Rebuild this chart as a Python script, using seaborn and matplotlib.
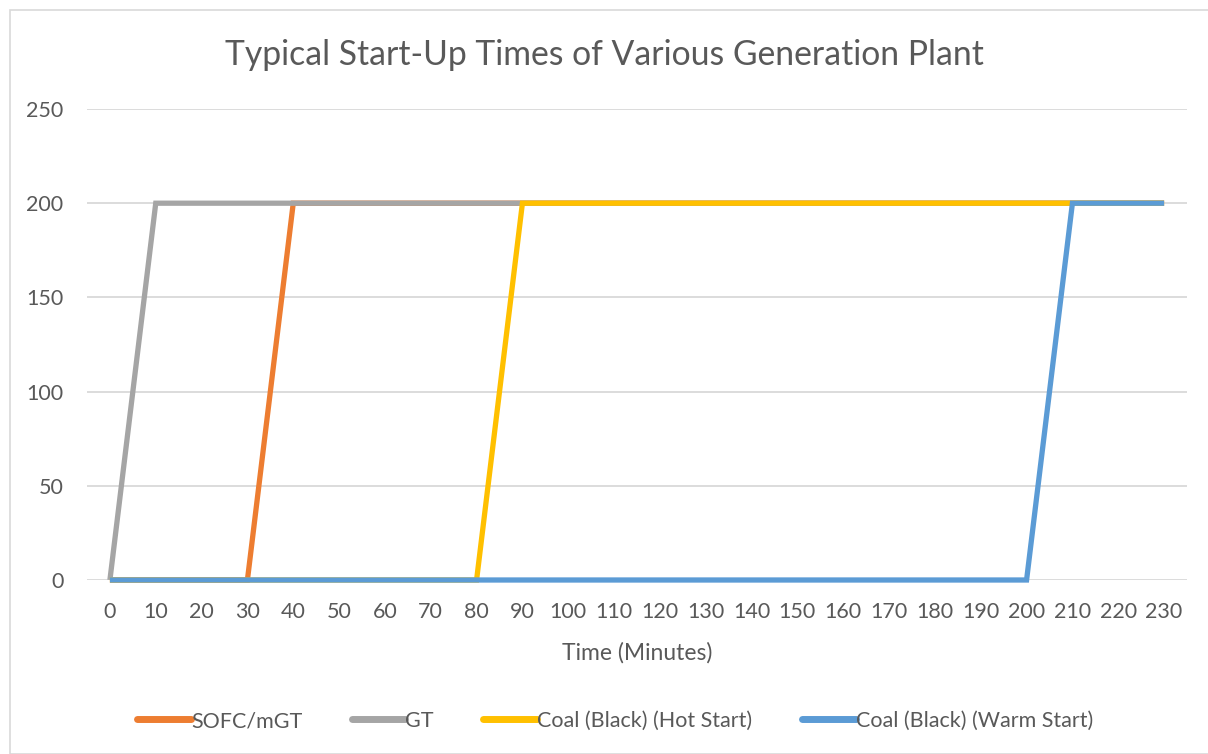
import matplotlib
matplotlib.use('Agg')
import matplotlib.pyplot as plt
import seaborn as sns
import pandas as pd
from matplotlib.patches import Rectangle

# ── data ─────────────────────────────────────────────
minutes = list(range(0, 240, 10))
sofc = [0, 0, 0, 0] + [200] * 20
gt = [0] + [200] * 23
coal_hot = [0] * 9 + [200] * 15
coal_warm = [0] * 21 + [200] * 3

series_names = ['SOFC/mGT', 'GT', 'Coal (Black) (Hot Start)',
                'Coal (Black) (Warm Start)']
colors = ['#ED7D31', '#A5A5A5', '#FFC000', '#5B9BD5']

df = pd.concat([
    pd.DataFrame({'Time': minutes, 'Output': vals, 'Plant': name})
    for name, vals in zip(series_names, [sofc, gt, coal_hot, coal_warm])
])

sns.set_theme(style='white')
plt.rcParams['font.family'] = ['Lato', 'DejaVu Sans']
text_col = '#595959'

fig = plt.figure(figsize=(12.08, 7.54), dpi=100)
ax = fig.add_axes([87 / 1208, 1 - 580 / 754, 1100 / 1208, 471 / 754])

# chart border
fig.patches.append(Rectangle((10 / 1208, 0), 1.2, 1 - 10 / 754,
                             transform=fig.transFigure, fill=False,
                             edgecolor='#D9D9D9', linewidth=1.2))

sns.lineplot(data=df, x='Time', y='Output', hue='Plant',
             hue_order=series_names, palette=colors,
             linewidth=3.8, ax=ax, legend=False)
for ln in ax.lines:
    ln.set_clip_on(False)
    ln.set_solid_capstyle('butt')
    ln.set_solid_joinstyle('miter')

ax.set_xlim(-5, 235)
ax.set_ylim(0, 250)
ax.set_xticks(minutes)
ax.set_yticks(range(0, 300, 50))
ax.yaxis.grid(True, color='#D9D9D9', linewidth=1.3)
ax.set_axisbelow(True)
for s in ax.spines.values():
    s.set_visible(False)
ax.tick_params(axis='both', length=0, labelsize=15.5, colors=text_col)
ax.tick_params(axis='x', pad=16)
ax.tick_params(axis='y', pad=17)
ax.set_xlabel('Time (Minutes)', fontsize=16.5, color=text_col, labelpad=14)
ax.set_ylabel('')

fig.text(0.5, 1 - 55 / 754, 'Typical Start-Up Times of Various Generation Plant',
         ha='center', va='center', fontsize=24.3, color=text_col)

handles = [plt.Line2D([], [], color=c, linewidth=5, solid_capstyle='round')
           for c in colors]
fig.legend(handles, series_names, loc='center', ncol=4,
           bbox_to_anchor=(615 / 1208, 1 - 721 / 754), frameon=False,
           fontsize=15.5, labelcolor=text_col, handlelength=2.5,
           handletextpad=0.0, columnspacing=2.3)

plt.savefig('out.png', dpi=100)
